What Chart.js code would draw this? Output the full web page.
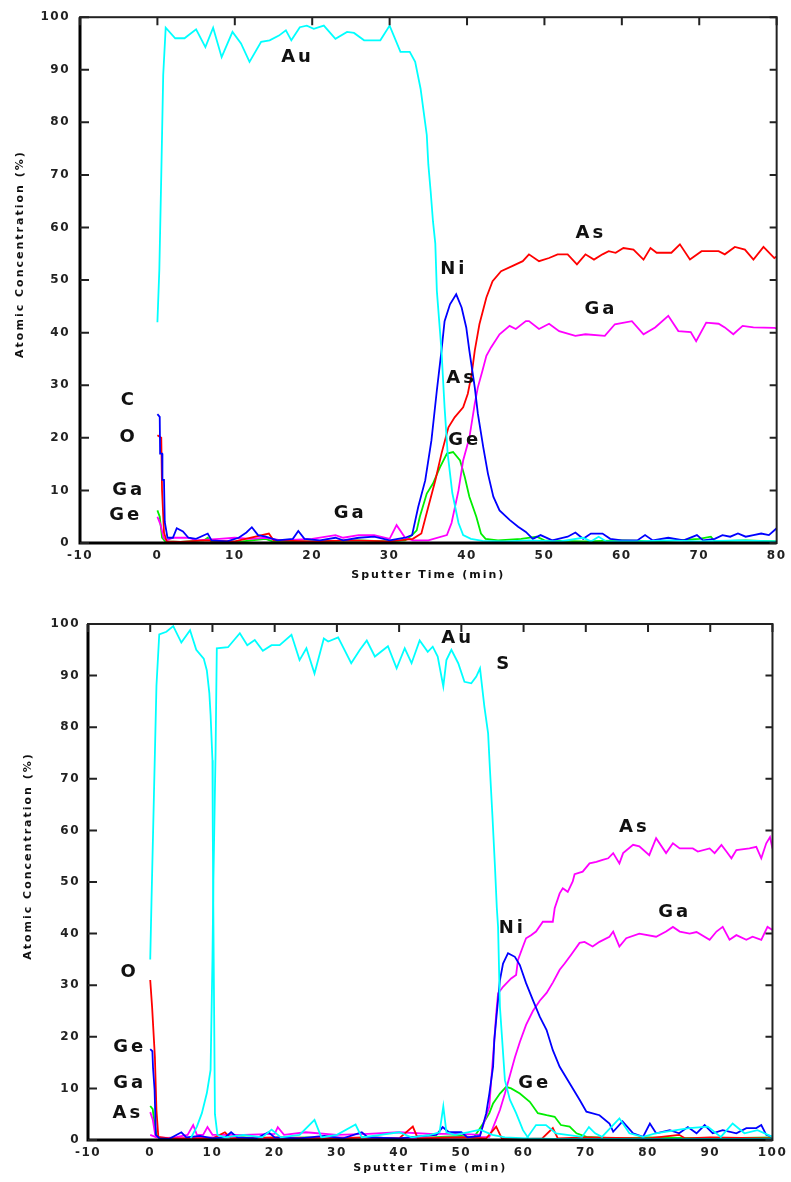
<!DOCTYPE html>
<html>
<head>
<meta charset="utf-8">
<script src="https://cdn.jsdelivr.net/npm/chart.js@4"></script>
<style>
  body { margin: 0; background: #fff; }
  .panel { position: absolute; left: 0; }
</style>
</head>
<body>
<div class="panel" style="top:0"><canvas id="topChart" width="791" height="592"></canvas></div>
<div class="panel" style="top:592px"><canvas id="botChart" width="791" height="590"></canvas></div>
<script>
// ---- data: [sputter time (min), atomic concentration (%)] ----

// upper profile
const topAu = [[0,42],[0.25,52],[0.5,70],[0.75,89],[1.07,98],[2.3,96],[3.5,96],[5,97.7],[6.2,94.3],[7.2,98],[8.3,92.4],[9.7,97.2],[10.8,95],[11.9,91.5],[13.4,95.3],[14.5,95.6],[15.7,96.5],[16.6,97.5],[17.3,95.6],[18.4,98.1],[19.3,98.4],[20.2,97.8],[21.5,98.4],[23,95.9],[24.5,97.2],[25.4,97],[26.7,95.6],[28.8,95.6],[30,98.4],[31.4,93.4],[32.6,93.4],[33.3,91.5],[34,86.4],[34.4,82],[34.8,77.6],[35,72],[35.3,66.9],[35.6,61.2],[35.9,57],[36.1,48],[36.7,36.6],[37.1,25.8],[37.5,17],[38.1,9.5],[38.9,3.8],[39.5,1.5],[40.5,0.8],[42,0.4],[45,0.3],[48,0.5],[52,0.3],[55,1],[56,0.3],[57,1.2],[58,0.3],[62,0.3],[66,0.5],[70,0.3],[75,0.5],[80,0.3]];
// C at the surface, Ni at the interface (blue)
const topCNi = [[0,24.5],[0.3,24],[0.35,17],[0.6,17],[0.65,12],[0.85,12],[0.95,4],[1.3,1],[2,1],[2.5,2.8],[3.3,2.2],[4,1],[5,0.8],[6.5,1.8],[7,0.5],[9,0.3],[10.5,1],[11.5,2],[12.2,3],[13,1.5],[14,1.2],[15.5,0.5],[17.5,0.8],[18.2,2.3],[19,0.8],[21,0.5],[23,1],[24,0.5],[26,1],[28,1.2],[30,0.5],[32,1],[32.9,1.5],[33.7,6.9],[34.6,11.9],[35.4,19.5],[36.1,29],[36.7,36.6],[37.1,42.2],[37.8,45.4],[38.6,47.3],[39.3,44.8],[39.9,41],[40.3,36.6],[41,29.6],[41.4,24.6],[42.1,18.2],[42.7,13.2],[43.4,8.8],[44.2,6.2],[45.5,4.4],[46.6,3.1],[47.6,2.1],[48.5,0.8],[49.5,1.5],[51,0.5],[53,1.2],[54,2],[55,0.8],[56,1.8],[57.5,1.8],[58.5,0.8],[60,0.5],[62,0.5],[63,1.5],[64,0.5],[66,1],[68,0.5],[69.7,1.5],[70.5,0.5],[72,0.8],[73,1.5],[74,1.2],[75,1.8],[76,1.2],[77,1.5],[78,1.8],[79,1.5],[80,2.8]];
// O at the surface, As in the substrate (red)
const topOAs = [[0,20.5],[0.5,20],[0.6,10],[0.85,2],[1.2,0.3],[3,0.2],[6,0.5],[10,0.3],[14.4,1.8],[15,0.5],[20,0.3],[25,0.5],[30,0.3],[33,0.8],[34.1,1.8],[35,6.9],[35.9,11.9],[36.7,17],[37.6,22],[38.4,23.9],[39.5,25.8],[40.1,28.4],[40.6,32.1],[41,36.6],[41.6,41.6],[42.5,46.7],[43.3,49.8],[44.4,51.7],[45.9,52.7],[47.2,53.6],[48,54.9],[49.3,53.6],[50.6,54.2],[51.7,54.9],[53,54.9],[54.2,53],[55.3,54.9],[56.4,53.9],[57.5,54.9],[58.3,55.5],[59.2,55.2],[60.2,56.1],[61.5,55.8],[62.8,53.9],[63.7,56.1],[64.5,55.2],[66.4,55.2],[67.5,56.8],[68.8,53.9],[70.3,55.5],[72.5,55.5],[73.3,54.9],[74.6,56.3],[75.9,55.8],[77,53.9],[78.3,56.3],[79.7,54.2],[80,54.5]];
const topGa = [[0,5],[0.4,3.5],[0.8,1],[1.2,0.5],[2,1],[4,1],[5,0.5],[8,0.8],[10,1],[12,0.8],[14,1],[16,0.5],[20,0.8],[23,1.5],[24,1],[26,1.5],[28,1.5],[30,0.8],[30.9,3.4],[32,1],[33,0.5],[35,0.5],[37.4,1.5],[38,3.8],[38.9,10],[39.5,15.7],[40.3,20],[41,26.5],[41.4,29.6],[42,32.8],[42.5,35.6],[43.1,37.2],[44.2,39.7],[45.5,41.3],[46.3,40.7],[47.6,42.2],[48,42.2],[49.3,40.7],[50.6,41.7],[51.9,40.3],[54,39.4],[55.3,39.7],[57.8,39.4],[59.1,41.6],[61.3,42.2],[62.8,39.7],[64.3,41],[66,43.2],[67.3,40.3],[68.9,40.1],[69.6,38.4],[70.9,41.9],[72.5,41.7],[73.3,41],[74.4,39.7],[75.6,41.3],[77,41],[79.7,40.9],[80,40.8]];
const topGe = [[0,6.2],[0.3,5],[0.6,1],[1,0.3],[3,0.2],[6,0.5],[6.5,1],[7,0.2],[11,0.3],[14,0.8],[15,0.2],[20,0.3],[26,0.5],[30,0.3],[32,0.5],[32.9,1.5],[33.5,2.4],[33.9,5],[34.8,9.4],[35.6,11.3],[36.5,14.4],[37.4,17],[38.2,17.3],[39.1,15.7],[39.7,12.6],[40.3,8.8],[41.2,5],[41.8,1.8],[42.4,0.8],[44,0.5],[47,0.8],[49,1.2],[50,0.5],[55,0.3],[60,0.5],[65,0.3],[70,0.8],[71.5,1.2],[72,0.3],[76,0.5],[80,0.3]];

// lower profile
const botAuSurface = [[0,35],[0.2,46],[0.6,67],[1,88],[1.45,98],[2.6,98.5],[3.7,99.6],[5,96.4],[6.4,98.8],[7.4,95],[8.6,93.3],[9.1,91],[9.5,86.6],[9.7,82.4],[10,73.6],[10.05,60.7],[10.2,35],[10.4,5],[10.8,1],[12,0.5],[15,1],[18,0.5],[19.5,2],[21,0.5],[24,1],[26.4,3.9],[27.5,0.5],[30,1],[33,3],[34,0.5],[37,1],[40,1.5],[42,0.5],[45,1],[46.5,1.5],[47.1,6.5],[47.6,1.5],[49,1],[51,1.5],[53,2],[55,1],[57,0.5],[60.5,0.3],[62,2.9],[63.6,2.9],[65.2,1.3],[69.4,0.6],[70.5,2.5],[71.5,1.3],[72.6,0.6],[75.4,4.2],[77,1.3],[79.2,0.6],[81.2,1.3],[86.6,2.3],[89.6,2.6],[91.7,0.6],[93.6,3.2],[95.5,1.3],[97.6,1.9],[100,0.6]];
const botAuFilm = [[6.5,0.3],[7.5,2.6],[8.3,5.2],[9.1,9.1],[9.7,13.6],[10,35],[10.15,50],[10.5,75],[10.7,95.3],[12.5,95.5],[14.4,98.2],[15.6,95.9],[16.8,96.9],[18.1,94.8],[19.5,95.9],[20.8,95.9],[22.7,97.9],[24,93],[25.1,95.3],[26.4,90.4],[27.9,97.2],[28.6,96.6],[30.2,97.4],[32.3,92.4],[33.7,95],[34.8,96.8],[36.1,93.7],[38.2,95.7],[39.6,91.4],[40.9,95.3],[42,92.4],[43.3,96.8],[44.6,94.6],[45.4,95.6],[46.2,93.7],[47.1,87.9],[47.6,93],[48.4,95],[49.5,92.4],[50.5,88.8],[51.6,88.5],[52.4,89.8],[53,91.4],[53.7,84],[54.3,78.8],[54.6,71.7],[55,62.7],[55.4,53],[55.7,45],[55.9,41.3],[56.2,25.8],[57,11.6],[57.8,7.8],[58.8,5.2],[59.9,1.9],[60.8,0.3],[65,0.2],[80,0.2],[100,0.2]];
// Ge at the surface, Ni at the interface (blue)
const botGeNi = [[0,17.6],[0.35,17.2],[0.45,14],[0.7,9.7],[0.9,1],[1.5,0.3],[3,0.2],[5,1.5],[5.8,0.5],[8,0.8],[10,0.3],[12,0.5],[13,1.5],[14,0.5],[17,0.3],[19,1.5],[20,0.5],[24,0.3],[28,0.8],[31,0.3],[34,1.5],[35,0.5],[40,0.3],[44,0.8],[46,1],[47,2.5],[48,1.5],[50,1.5],[51,0.5],[53,0.8],[54,5.2],[54.5,9],[55.1,14.2],[55.3,19.4],[55.6,23.3],[56.2,31],[56.7,34.2],[57.5,36.2],[58.6,35.5],[59.4,33.9],[60.4,30.4],[61.5,27.1],[62.6,23.9],[63.7,21.3],[64.7,17.4],[65.8,14.2],[67.4,11],[69,7.8],[70.1,5.5],[72.2,4.8],[73.8,3.2],[74.4,1.6],[75.9,3.6],[77.6,1.3],[79.2,0.6],[80.3,3.2],[81.3,1.3],[83.5,1.9],[85,1.3],[86.4,2.5],[87.8,1.3],[89.1,2.9],[90.4,1.3],[92,1.9],[94.2,1.3],[95.8,2.3],[97.4,2.3],[98.2,2.9],[99,1],[100,0.6]];
const botO = [[0,31],[0.3,25.8],[0.4,25.8],[0.75,16.1],[1,5.8],[1.3,0.6],[3,0.3],[10,0.3],[12,1.5],[13,0.3],[20,0.5],[30,0.3],[35,0.5],[40,0.3],[42.2,2.6],[43,0.3],[50,0.5],[54,0.3],[55.6,2.6],[56.5,0.3],[60,0.2],[63,0.3],[64.7,2.3],[65.5,0.3],[70,0.5],[80,0.3],[85,1],[86,0.3],[90,0.5],[100,0.3]];
const botAs = [[0,5.4],[0.4,4],[0.8,1],[1.5,0.3],[4,0.5],[6,1],[6.9,2.9],[7.5,1],[8.5,1],[9.2,2.5],[10,1],[15,1],[20,1.2],[20.5,2.5],[21.5,1],[25,1.5],[30,1],[35,1.2],[40,1.5],[45,1.2],[50,1.2],[53,1],[54.5,6.5],[54.8,11.6],[55.3,19.4],[55.6,24.5],[55.9,28.4],[56.7,29.7],[58,31.3],[58.8,32],[59.1,34.9],[59.9,37.5],[60.4,39.1],[61.2,39.7],[62,40.4],[63.1,42.3],[64.7,42.3],[65,44.9],[65.8,47.8],[66.3,48.8],[67.1,48.1],[67.9,50.1],[68.2,51.5],[69.5,52],[70.6,53.6],[71.7,53.9],[72.7,54.3],[73.6,54.6],[74.4,55.6],[75.4,53.6],[76,55.6],[77.6,57.2],[78.6,56.9],[80.2,55.2],[81.3,58.5],[82.9,55.6],[84,57.5],[85.1,56.5],[87.2,56.5],[88,55.9],[89.9,56.5],[90.7,55.6],[91.8,57.2],[92.6,55.9],[93.4,54.6],[94.2,56.2],[96.3,56.5],[97.4,56.8],[98.2,54.6],[99,57.5],[99.6,58.7],[100,56.5]];
const botGa = [[0,1],[1,0.5],[5,0.3],[10,0.5],[20,0.3],[30,0.5],[40,0.3],[50,0.5],[54.5,0.6],[56.2,5.8],[57,9],[57.8,12.5],[58.6,16],[59.4,19],[60.4,22.3],[61.5,25],[62.6,27],[63.7,28.5],[64.7,30.5],[65.8,33],[66.6,34.2],[67.7,36],[69,38.2],[69.8,38.4],[71.1,37.5],[72.2,38.4],[73.8,39.4],[74.4,40.4],[75.4,37.5],[76.5,39.1],[78.6,40],[81.3,39.4],[82.9,40.4],[84,41.3],[85.1,40.4],[86.7,40],[87.8,40.3],[89.9,38.8],[91,40.4],[92,41.3],[93.1,38.8],[94.2,39.7],[95.8,38.8],[96.8,39.4],[98.2,38.8],[99.2,41.3],[100,40.7]];
const botGe = [[0,6.6],[0.4,6],[0.6,4],[1,1],[1.5,0.3],[5,0.2],[10,0.3],[15,0.5],[20,0.3],[25,0.5],[30,0.3],[35,0.5],[40,0.3],[45,0.5],[50,0.8],[52,0.5],[53.5,3.2],[54.5,5.2],[55.1,7.1],[56.2,9],[57.2,10.3],[58,10],[59.4,9],[61,7.4],[62.3,5.2],[63.7,4.8],[65,4.5],[66,2.9],[67.4,2.6],[68.5,1.3],[70.1,0.6],[75,0.3],[80,0.5],[90,0.3],[100,0.5]];

// element tags: [text, time, concentration]
const topTags = [['Au',18.1,92.4],['As',56,58.9],['Ni',38.3,52.1],['Ga',57.3,44.5],['As',39.3,31.4],['Ge',39.7,19.5],['C',-3.7,27.1],['O',-3.7,20.1],['Ga',-3.7,10],['Ge',-4.1,5.3],['Ga',24.9,5.7]];
const botTags = [['Au',49.4,97.3],['S',56.9,92.1],['As',77.8,60.5],['Ga',84.3,44.2],['Ni',58.2,41.1],['Ge',61.8,11],['O',-3.3,32.4],['Ge',-3.3,18],['Ga',-3.3,10.9],['As',-3.6,5.2]];

const xTitle = 'Sputter Time (min)';
const yTitle = 'Atomic Concentration (%)';

const CYAN = '#00ffff', BLUE = '#0000ff', RED = '#ff0000', MAGENTA = '#ff00ff', GREEN = '#00ee00';

// frame with inward ticks, element tags and axis titles
const decor = {
  id: 'decor',
  beforeDraw(chart) {
    chart.ctx.letterSpacing = '1.5px';
  },
  afterDatasetsDraw(chart, args, opts) {
    const { ctx, chartArea: a, scales: { x, y } } = chart;
    ctx.save();
    ctx.letterSpacing = '0px';
    ctx.strokeStyle = '#222';
    ctx.lineWidth = 2;
    ctx.strokeRect(a.left, a.top, a.right - a.left, a.bottom - a.top);
    ctx.strokeStyle = '#000';
    ctx.lineWidth = 3;
    ctx.beginPath();
    ctx.moveTo(a.left, a.top);
    ctx.lineTo(a.left, a.bottom);
    ctx.lineTo(a.right, a.bottom);
    ctx.stroke();

    ctx.lineWidth = 2;
    ctx.strokeStyle = '#222';
    ctx.beginPath();
    x.ticks.forEach(t => {
      const px = x.getPixelForValue(t.value);
      ctx.moveTo(px, a.top); ctx.lineTo(px, a.top + 8);
    });
    y.ticks.forEach(t => {
      const py = y.getPixelForValue(t.value);
      ctx.moveTo(a.left, py); ctx.lineTo(a.left + 9, py);
      ctx.moveTo(a.right, py); ctx.lineTo(a.right - 7, py);
    });
    ctx.stroke();

    ctx.fillStyle = '#111';
    ctx.textAlign = 'center';
    ctx.textBaseline = 'middle';
    ctx.font = 'bold 18px "DejaVu Sans"';
    ctx.letterSpacing = '3px';
    opts.tags.forEach(([txt, t, v]) => {
      ctx.fillText(txt, x.getPixelForValue(t), y.getPixelForValue(v));
    });

    ctx.font = 'bold 11px "DejaVu Sans"';
    ctx.letterSpacing = '2px';
    ctx.fillText(xTitle, (a.left + a.right) / 2, a.bottom + opts.xTitleGap);
    ctx.translate(opts.yTitleX, (a.top + a.bottom) / 2 - 26);
    ctx.rotate(-Math.PI / 2);
    ctx.fillText(yTitle, 0, 0);
    ctx.restore();
  }
};

function pts(a) { return a.map(p => ({ x: p[0], y: p[1] })); }

function line(label, color, data) {
  return { label, data: pts(data), borderColor: color, backgroundColor: color, borderWidth: 1.8, pointRadius: 0, tension: 0, fill: false };
}

const tickFont = { family: 'DejaVu Sans', weight: 'bold', size: 12 };

function makeChart(id, c) {
  return new Chart(document.getElementById(id), {
    type: 'line',
    data: { datasets: c.datasets },
    plugins: [decor],
    options: {
      responsive: false,
      animation: false,
      devicePixelRatio: 1,
      layout: { padding: c.padding },
      plugins: {
        legend: { display: false },
        tooltip: { enabled: false },
        decor: { tags: c.tags, xTitleGap: c.xTitleGap, yTitleX: c.yTitleX }
      },
      scales: {
        x: {
          type: 'linear', min: -10, max: c.xMax,
          grid: { display: false, drawTicks: false },
          border: { display: false },
          ticks: { stepSize: 10, padding: 6, color: '#222', font: tickFont, maxRotation: 0, autoSkip: false },
          afterFit: s => { s.height = c.xHeight; }
        },
        y: {
          type: 'linear', min: 0, max: 100,
          grid: { display: false, drawTicks: false },
          border: { display: false },
          ticks: { stepSize: 10, padding: c.yPad, color: '#222', font: tickFont },
          afterFit: s => { s.width = c.yWidth; }
        }
      }
    }
  });
}

makeChart('topChart', {
  xMax: 80,
  padding: { top: 15, right: 10, left: 0, bottom: 0 },
  xHeight: 49, yWidth: 80, yPad: 10,
  xTitleGap: 32, yTitleX: 20,
  tags: topTags,
  datasets: [
    line('Au', CYAN, topAu),
    line('C / Ni', BLUE, topCNi),
    line('O / As', RED, topOAs),
    line('Ga', MAGENTA, topGa),
    line('Ge', GREEN, topGe)
  ]
});

makeChart('botChart', {
  xMax: 100,
  padding: { top: 32, right: 18, left: 0, bottom: 0 },
  xHeight: 42, yWidth: 88, yPad: 8,
  xTitleGap: 28, yTitleX: 28,
  tags: botTags,
  datasets: [
    line('Au', CYAN, botAuFilm),
    line('Au (surface)', CYAN, botAuSurface),
    line('Ge / Ni', BLUE, botGeNi),
    line('O', RED, botO),
    line('As', MAGENTA, botAs),
    line('Ga', MAGENTA, botGa),
    line('Ge', GREEN, botGe)
  ]
});
</script>
</body>
</html>
